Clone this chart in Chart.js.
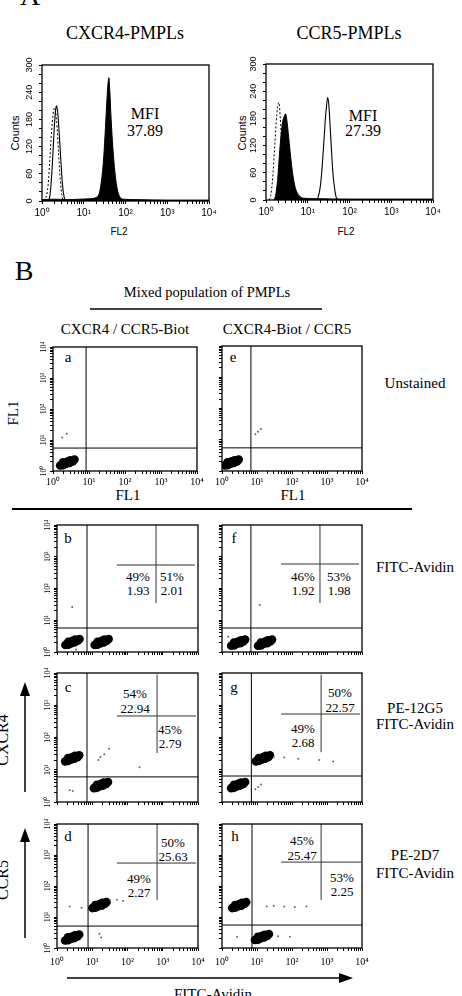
<!DOCTYPE html>
<html>
<head>
<meta charset="utf-8">
<script src="https://cdn.jsdelivr.net/npm/chart.js@4.4.1/dist/chart.umd.min.js"></script>
<style>
  body { margin: 0; width: 462px; height: 996px; overflow: hidden; position: relative; background: #fff; font-family: "Liberation Serif", serif; color: #000; }
  canvas { position: absolute; }
  svg { position: absolute; left: 0; top: 0; }
  .t { position: absolute; white-space: nowrap; line-height: 1; transform: translate(-50%, -50%); }
  .r { transform: translate(-50%, -50%) rotate(-90deg); }
  .s { font-family: "Liberation Sans", sans-serif; }
</style>
</head>
<body>
<svg width="462" height="996">
  <g stroke="#000" fill="none">
    <line x1="90" y1="309" x2="322" y2="309" stroke-width="1.5"/>
    <line x1="12" y1="509" x2="412" y2="509" stroke-width="2"/>
    <line x1="25" y1="792" x2="25" y2="692" stroke-width="1.5"/>
    <line x1="25" y1="938" x2="25" y2="838" stroke-width="1.5"/>
    <line x1="67" y1="978" x2="343" y2="978" stroke-width="1.5"/>
  </g>
  <g fill="#000">
    <polygon points="25,682 20,696 30,696"/>
    <polygon points="25,828 20,842 30,842"/>
    <polygon points="353,978 339,973 339,983"/>
  </g>
</svg>

<div class="t" style="left:30px;top:-4px;font-size:28px">A</div>
<div class="t" style="left:125px;top:33px;font-size:18px">CXCR4-PMPLs</div>
<div class="t" style="left:349px;top:33px;font-size:18px">CCR5-PMPLs</div>
<div class="t" style="left:145px;top:114px;font-size:16px">MFI</div>
<div class="t" style="left:145px;top:131px;font-size:16px">37.89</div>
<div class="t" style="left:363px;top:116px;font-size:16px">MFI</div>
<div class="t" style="left:363px;top:131px;font-size:16px">27.39</div>
<div class="t r s" style="left:15px;top:133px;font-size:11px">Counts</div>
<div class="t r s" style="left:242px;top:133px;font-size:11px">Counts</div>
<div class="t s" style="left:119px;top:232px;font-size:10px">FL2</div>
<div class="t s" style="left:346px;top:232px;font-size:10px">FL2</div>

<div class="t" style="left:24px;top:271px;font-size:28px">B</div>
<div class="t" style="left:207px;top:292px;font-size:14.5px">Mixed population of PMPLs</div>
<div class="t" style="left:125px;top:329px;font-size:15px">CXCR4 / CCR5-Biot</div>
<div class="t" style="left:287px;top:329px;font-size:15px">CXCR4-Biot / CCR5</div>
<div class="t" style="left:415px;top:383px;font-size:15px">Unstained</div>
<div class="t r" style="left:13px;top:413px;font-size:15px">FL1</div>
<div class="t" style="left:128px;top:495px;font-size:15px">FL1</div>
<div class="t" style="left:293px;top:495px;font-size:15px">FL1</div>
<div class="t" style="left:415px;top:567px;font-size:15px">FITC-Avidin</div>
<div class="t" style="left:415px;top:708px;font-size:15px">PE-12G5</div>
<div class="t" style="left:415px;top:724px;font-size:15px">FITC-Avidin</div>
<div class="t" style="left:415px;top:855px;font-size:15px">PE-2D7</div>
<div class="t" style="left:415px;top:873px;font-size:15px">FITC-Avidin</div>
<div class="t r" style="left:3px;top:740px;font-size:16px">CXCR4</div>
<div class="t r" style="left:3px;top:880px;font-size:16px">CCR5</div>
<div class="t" style="left:213px;top:994px;font-size:15px">FITC-Avidin</div>

<div class="t" style="left:68px;top:357px;font-size:15px">a</div>
<div class="t" style="left:233px;top:357px;font-size:15px">e</div>
<div class="t" style="left:68px;top:538px;font-size:15px">b</div>
<div class="t" style="left:234px;top:538px;font-size:15px">f</div>
<div class="t" style="left:68px;top:687px;font-size:15px">c</div>
<div class="t" style="left:234px;top:687px;font-size:15px">g</div>
<div class="t" style="left:68px;top:836px;font-size:15px">d</div>
<div class="t" style="left:235px;top:836px;font-size:15px">h</div>

<div class="t" style="left:138px;top:576px;font-size:13px">49%</div>
<div class="t" style="left:138px;top:590px;font-size:13px">1.93</div>
<div class="t" style="left:172px;top:576px;font-size:13px">51%</div>
<div class="t" style="left:172px;top:590px;font-size:13px">2.01</div>
<div class="t" style="left:303px;top:576px;font-size:13px">46%</div>
<div class="t" style="left:303px;top:590px;font-size:13px">1.92</div>
<div class="t" style="left:339px;top:576px;font-size:13px">53%</div>
<div class="t" style="left:339px;top:590px;font-size:13px">1.98</div>
<div class="t" style="left:135px;top:693px;font-size:13px">54%</div>
<div class="t" style="left:135px;top:708px;font-size:13px">22.94</div>
<div class="t" style="left:170px;top:729px;font-size:13px">45%</div>
<div class="t" style="left:170px;top:743px;font-size:13px">2.79</div>
<div class="t" style="left:340px;top:692px;font-size:13px">50%</div>
<div class="t" style="left:340px;top:707px;font-size:13px">22.57</div>
<div class="t" style="left:303px;top:728px;font-size:13px">49%</div>
<div class="t" style="left:303px;top:742px;font-size:13px">2.68</div>
<div class="t" style="left:173px;top:842px;font-size:13px">50%</div>
<div class="t" style="left:173px;top:856px;font-size:13px">25.63</div>
<div class="t" style="left:139px;top:878px;font-size:13px">49%</div>
<div class="t" style="left:139px;top:892px;font-size:13px">2.27</div>
<div class="t" style="left:302px;top:840px;font-size:13px">45%</div>
<div class="t" style="left:302px;top:855px;font-size:13px">25.47</div>
<div class="t" style="left:342px;top:877px;font-size:13px">53%</div>
<div class="t" style="left:342px;top:891px;font-size:13px">2.25</div>

<script>
const SERIF = '"Liberation Serif", serif';
const SANS = '"Liberation Sans", sans-serif';

// axis ticks
const LOG_TICKS = [1, 2, 3, 4, 5, 6, 7, 8, 9, 10, 20, 30, 40, 50, 60, 70, 80, 90,
  100, 200, 300, 400, 500, 600, 700, 800, 900, 1000, 2000, 3000, 4000, 5000, 6000, 7000, 8000, 9000, 10000];
const DECADE_LABELS = { 1: '10⁰', 10: '10¹', 100: '10²', 1000: '10³', 10000: '10⁴' };
const COUNT_TICKS = [0, 20, 40, 60, 80, 100, 120, 140, 160, 180, 200, 220, 240, 260, 280, 300];
const COUNT_LABELS = [0, 60, 120, 180, 240, 300];

// panel A histograms [FL2, counts]
const cxcr4Dotted = [[1.1, 0], [1.25, 8], [1.4, 35], [1.55, 95], [1.7, 155], [1.85, 192], [2.0, 205], [2.1, 200], [2.3, 162], [2.5, 105], [2.75, 45], [3.0, 12], [3.2, 0]];
const cxcr4Open = [[1.4, 0], [1.55, 12], [1.7, 55], [1.85, 115], [2.0, 172], [2.15, 205], [2.25, 210], [2.4, 192], [2.6, 145], [2.85, 85], [3.1, 35], [3.4, 8], [3.7, 0]];
const cxcr4Filled = [[1, 3], [2, 4], [4, 3], [8, 4], [14, 5], [20, 8], [24, 20], [27, 50], [30, 95], [33, 160], [36, 225], [38, 258], [40, 272], [42, 245], [45, 185], [50, 115], [56, 62], [63, 28], [72, 10], [90, 4], [200, 3], [1000, 2], [10000, 2]];
const ccr5Dotted = [[1.2, 0], [1.3, 10], [1.45, 50], [1.6, 110], [1.75, 170], [1.9, 205], [2.05, 215], [2.2, 180], [2.4, 120], [2.6, 60], [2.85, 20], [3.1, 0]];
const ccr5Filled = [[1.5, 0], [1.7, 10], [1.9, 45], [2.1, 100], [2.3, 145], [2.5, 172], [2.75, 185], [2.95, 190], [3.2, 172], [3.5, 138], [3.9, 95], [4.4, 55], [5.1, 25], [6.2, 10], [8, 4], [15, 3], [100, 2], [10000, 2]];
const ccr5Open = [[16, 0], [18, 8], [20, 30], [22, 70], [24, 120], [26, 170], [28, 205], [30, 226], [32, 210], [34, 170], [37, 110], [40, 60], [44, 25], [48, 6], [55, 0]];

// panel B populations [FITC, PE]
const clusterA = [[1.58, 1.50], [1.90, 1.54], [1.90, 1.90], [2.28, 1.69], [2.50, 2.03], [2.88, 1.81], [3.00, 2.22], [3.53, 2.03], [3.95, 2.34]];
const clusterE = [[1.20, 1.50], [1.44, 1.54], [1.44, 1.90], [1.73, 1.69], [1.90, 2.03], [2.19, 1.81], [2.28, 2.22], [2.68, 2.03], [3.00, 2.34]];
const clusterB1 = [[1.73, 1.66], [2.09, 1.70], [2.09, 2.10], [2.50, 1.87], [2.75, 2.25], [3.16, 2.00], [3.30, 2.46], [3.88, 2.25], [4.35, 2.58]];
const clusterB2 = [[11.7, 1.66], [14.1, 1.70], [14.1, 2.10], [16.8, 1.87], [18.5, 2.25], [21.3, 2.00], [22.2, 2.46], [26.1, 2.25], [29.2, 2.58]];
const clusterF1 = [[1.83, 1.58], [2.20, 1.62], [2.20, 2.00], [2.64, 1.78], [2.90, 2.14], [3.34, 1.90], [3.48, 2.34], [4.09, 2.14], [4.58, 2.46]];
const clusterF2 = [[10.7, 1.58], [12.9, 1.62], [12.9, 2.00], [15.5, 1.78], [17.0, 2.14], [19.6, 1.90], [20.4, 2.34], [24.0, 2.14], [26.9, 2.46]];
const clusterC1 = [[1.70, 18.2], [2.05, 18.6], [2.05, 23.0], [2.46, 20.5], [2.70, 24.6], [3.10, 21.9], [3.24, 26.9], [3.81, 24.6], [4.27, 28.3]];
const clusterC2 = [[11.2, 2.69], [13.5, 2.75], [13.5, 3.40], [16.1, 3.03], [17.7, 3.64], [20.4, 3.23], [21.2, 3.98], [25.0, 3.64], [28.0, 4.18]];
const clusterG1 = [[1.83, 2.69], [2.20, 2.75], [2.20, 3.40], [2.64, 3.03], [2.90, 3.64], [3.34, 3.23], [3.48, 3.98], [4.09, 3.64], [4.58, 4.18]];
const clusterG2 = [[9.3, 18.2], [11.2, 18.6], [11.2, 23.0], [13.5, 20.5], [14.8, 24.6], [17.0, 21.9], [17.8, 26.9], [20.9, 24.6], [23.4, 28.3]];
const clusterD1 = [[1.70, 1.74], [2.05, 1.78], [2.05, 2.20], [2.46, 1.96], [2.70, 2.35], [3.10, 2.09], [3.24, 2.57], [3.81, 2.35], [4.27, 2.71]];
const clusterD2 = [[10.1, 19.4], [12.2, 19.8], [12.2, 24.5], [14.6, 21.8], [16.0, 26.2], [18.4, 23.3], [19.2, 28.7], [22.6, 26.2], [25.3, 30.1]];
const clusterH1 = [[1.95, 19.4], [2.36, 19.8], [2.36, 24.5], [2.82, 21.8], [3.10, 26.2], [3.57, 23.3], [3.72, 28.7], [4.37, 26.2], [4.90, 30.1]];
const clusterH2 = [[8.76, 1.82], [10.6, 1.86], [10.6, 2.30], [12.6, 2.05], [13.9, 2.46], [16.0, 2.19], [16.7, 2.69], [19.6, 2.46], [22.0, 2.83]];

// scattered single events
const sparseA = [[2.4, 16], [1.8, 12]];
const sparseE = [[10.7, 18], [13, 22], [9, 15]];
const sparseB = [[2.7, 26], [3.5, 1.2]];
const sparseF = [[12, 30], [1.5, 3]];
const sparseC = [[17, 25], [22, 30], [15, 20], [220, 12], [2.3, 2.3], [2.8, 2.2], [30, 45]];
const sparseG = [[30, 25], [60, 24], [150, 22], [600, 20], [1500, 18], [10.8, 2.9], [13, 3.5], [9, 2.5]];
const sparseD = [[32, 35], [50, 36], [75, 33], [2.3, 22], [16, 2.9], [18, 2.2], [5, 20]];
const sparseH = [[19, 22], [30, 23], [60, 22], [120, 21], [260, 22], [2.7, 2.3], [88, 2.3], [40, 2.4]];

// quadrant gates [FITC, PE]
const gateA = [8.3, 5.5], gateE = [6.7, 5.5];
const gateB = [7.1, 5.7], gateF = [6.7, 5.7];
const gateC = [7.1, 6.0], gateG = [6.9, 6.4];
const gateD = [7.6, 5.1], gateH = [7.2, 5.5];

// statistics crosshairs: h = [xFrom, xTo, y], v = [x, yFrom, yTo]
const markB = { h: [50, 8200, 550], v: [645, 35, 10000] };
const markF = { h: [49, 8200, 590], v: [630, 35, 10000] };
const markC = { h: [50, 8800, 465], v: [690, 33, 9000] };
const markG = { h: [49, 8800, 535], v: [680, 35, 9000] };
const markD = { h: [50, 8800, 550], v: [690, 35, 10000] };
const markH = { h: [49, 9400, 590], v: [680, 35, 10000] };

const toXY = arr => arr.map(([x, y]) => ({ x, y }));

function zeroPad(s) {
  s.paddingLeft = s.paddingRight = s.paddingTop = s.paddingBottom = 0;
}

const frame = {
  id: 'frame',
  afterDatasetsDraw(chart) {
    const { ctx, chartArea: a } = chart;
    ctx.save();
    ctx.strokeStyle = '#000';
    ctx.lineWidth = 1.3;
    ctx.strokeRect(a.left, a.top, a.right - a.left, a.bottom - a.top);
    ctx.restore();
  }
};

function makeChart(rect, m, datasets, scales) {
  const cv = document.createElement('canvas');
  cv.width = rect[2] - rect[0] + m.l + m.r;
  cv.height = rect[3] - rect[1] + m.t + m.b;
  cv.style.left = (rect[0] - m.l) + 'px';
  cv.style.top = (rect[1] - m.t) + 'px';
  document.body.appendChild(cv);
  return new Chart(cv, {
    type: 'scatter',
    data: { datasets },
    options: {
      responsive: false,
      animation: false,
      events: [],
      layout: { padding: { left: 0, top: m.t, right: m.r, bottom: 0 } },
      plugins: { legend: { display: false }, tooltip: { enabled: false } },
      scales
    },
    plugins: [frame]
  });
}

function logX(m, showLabels, pad, font) {
  return {
    type: 'logarithmic', min: 1, max: 10000, position: 'bottom',
    afterBuildTicks: s => { s.ticks = LOG_TICKS.map(v => ({ value: v })); },
    afterFit: s => { s.height = m.b; zeroPad(s); },
    border: { display: false },
    grid: { drawOnChartArea: false, tickLength: 3, color: '#000' },
    ticks: {
      display: showLabels, autoSkip: false, minRotation: 0, maxRotation: 0,
      padding: pad, color: '#000', font, callback: v => DECADE_LABELS[v] || ''
    }
  };
}

function logY(m, showLabels) {
  return {
    type: 'logarithmic', min: 1, max: 10000, position: 'left',
    afterBuildTicks: s => { s.ticks = LOG_TICKS.map(v => ({ value: v })); },
    afterFit: s => { s.width = m.l; zeroPad(s); },
    border: { display: false },
    grid: { drawOnChartArea: false, tickLength: 3, color: '#000' },
    ticks: {
      display: showLabels, autoSkip: false, minRotation: 90, maxRotation: 90, crossAlign: 'center',
      padding: 1, color: '#000', font: { family: SERIF, size: 8 }, callback: v => DECADE_LABELS[v] || ''
    }
  };
}

function countsY(m) {
  return {
    type: 'linear', min: 0, max: 300, position: 'left',
    afterBuildTicks: s => { s.ticks = COUNT_TICKS.map(v => ({ value: v })); },
    afterFit: s => { s.width = m.l; zeroPad(s); },
    border: { display: false },
    grid: { drawOnChartArea: false, tickLength: 3, color: '#000' },
    ticks: {
      autoSkip: false, minRotation: 90, maxRotation: 90, crossAlign: 'center',
      padding: 1.5, color: '#000', font: { family: SANS, size: 9 },
      callback: v => COUNT_LABELS.includes(v) ? String(v) : ''
    }
  };
}

function curve(data, opts) {
  return Object.assign({ data: toXY(data), showLine: true, pointRadius: 0, borderColor: '#000', borderWidth: 1.1, tension: 0.3, cubicInterpolationMode: 'monotone' }, opts);
}

// Panel A
const mA = { l: 30, r: 12, t: 8, b: 24 };
const fontA = { family: SANS, size: 10 };
makeChart([42, 65, 209, 201], mA, [
  curve(cxcr4Filled, { fill: 'origin', backgroundColor: '#000', borderWidth: 1 }),
  curve(cxcr4Dotted, { borderDash: [2, 2], borderWidth: 1 }),
  curve(cxcr4Open)
], { x: logX(mA, true, 3, fontA), y: countsY(mA) });

makeChart([266, 64, 433, 200], mA, [
  curve(ccr5Filled, { fill: 'origin', backgroundColor: '#000', borderWidth: 1 }),
  curve(ccr5Dotted, { borderDash: [2, 2], borderWidth: 1 }),
  curve(ccr5Open)
], { x: logX(mA, true, 3, fontA), y: countsY(mA) });

// Panel B
const mB = { l: 22, r: 12, t: 8, b: 20 };
const fontB = { family: SERIF, size: 10 };

function line(points, color) {
  return { data: points, showLine: true, pointRadius: 0, borderColor: color, borderWidth: 1 };
}

function flowPanel(rect, clusters, sparse, gate, mark, xLabels, yLabels, xPad) {
  const ds = [
    line([{ x: gate[0], y: 1 }, { x: gate[0], y: 10000 }], '#000'),
    line([{ x: 1, y: gate[1] }, { x: 10000, y: gate[1] }], '#000')
  ];
  if (mark) {
    ds.push(line([{ x: mark.h[0], y: mark.h[2] }, { x: mark.h[1], y: mark.h[2] }], '#333'));
    ds.push(line([{ x: mark.v[0], y: mark.v[1] }, { x: mark.v[0], y: mark.v[2] }], '#333'));
  }
  ds.push({ data: toXY(sparse), pointRadius: 1, pointBackgroundColor: '#666', pointBorderWidth: 0 });
  clusters.forEach(c => ds.push({ data: toXY(c), pointRadius: 4.3, pointBackgroundColor: '#000', pointBorderWidth: 0 }));
  makeChart(rect, mB, ds, { x: logX(mB, xLabels, xPad, fontB), y: logY(mB, yLabels) });
}

flowPanel([53, 347, 197, 471], [clusterA], sparseA, gateA, null, true, true, 2);
flowPanel([222, 346, 362, 471], [clusterE], sparseE, gateE, null, true, false, 2);
flowPanel([57, 525, 198, 652], [clusterB1, clusterB2], sparseB, gateB, markB, false, true, 2);
flowPanel([222, 525, 362, 652], [clusterF1, clusterF2], sparseF, gateF, markF, false, false, 2);
flowPanel([57, 673, 198, 802], [clusterC1, clusterC2], sparseC, gateC, markC, false, true, 2);
flowPanel([222, 673, 362, 802], [clusterG1, clusterG2], sparseG, gateG, markG, false, false, 2);
flowPanel([57, 824, 198, 948], [clusterD1, clusterD2], sparseD, gateD, markD, true, true, 5);
flowPanel([222, 824, 362, 948], [clusterH1, clusterH2], sparseH, gateH, markH, true, false, 5);
</script>
</body>
</html>
